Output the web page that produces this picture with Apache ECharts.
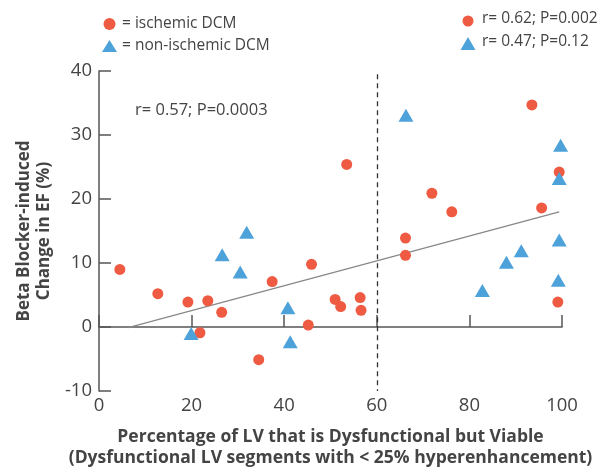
<!DOCTYPE html>
<html>
<head>
<meta charset="utf-8">
<script src="https://cdn.jsdelivr.net/npm/echarts@6/dist/echarts.min.js"></script>
<style>
  html, body { margin: 0; padding: 0; background: #fff; }
  #main { width: 610px; height: 467px; }
</style>
</head>
<body>
<div id="main"></div>
<script>
// ischemic DCM (red circles): [viable %, change in EF]
var ischemic = [
  [4.5, 9.0], [12.7, 5.2], [19.2, 3.9], [21.8, -0.9], [23.5, 4.1], [26.5, 2.3],
  [34.5, -5.1], [37.4, 7.1], [45.2, 0.3], [45.9, 9.8], [51.0, 4.3], [52.2, 3.2],
  [53.5, 25.4], [56.4, 4.6], [56.6, 2.6], [66.2, 11.2], [66.2, 13.9], [71.9, 20.9],
  [76.2, 18.0], [93.5, 34.7], [95.6, 18.6], [99.1, 3.9], [99.4, 24.2]
];
// non-ischemic DCM (blue triangles)
var nonIschemic = [
  [19.9, -1.0], [26.6, 11.3], [30.5, 8.6], [31.9, 14.8], [40.8, 3.0], [41.3, -2.3],
  [66.3, 33.1], [82.8, 5.7], [88.0, 10.1], [91.2, 11.9], [99.2, 7.3], [99.4, 13.6],
  [99.4, 23.2], [99.7, 28.4]
];
// overall regression line end points
var fitLine = [[6.3, -0.1], [99.4, 18.0]];
var cutoffX = 60;
var xTicks = [0, 20, 40, 60, 80, 100];
var yTicks = [-10, 0, 10, 20, 30, 40];

var red = '#ef5a43';
var blue = '#4ea2da';
var font = 'Open Sans';

var chart = echarts.init(document.getElementById('main'));

chart.setOption({
  animation: false,
  textStyle: { fontFamily: font },
  grid: { left: 99, right: 48, top: 71, bottom: 76, outerBoundsMode: 'none', containLabel: false },
  legend: {
    orient: 'vertical',
    left: 97,
    top: 11,
    itemGap: 6,
    itemWidth: 15,
    itemHeight: 12,
    textStyle: { fontFamily: font, fontSize: 15.5, color: '#444' },
    data: [
      { name: '= ischemic DCM', icon: 'circle' },
      { name: '= non-ischemic DCM', icon: 'triangle' }
    ]
  },
  xAxis: {
    type: 'value',
    min: xTicks[0],
    max: xTicks[xTicks.length - 1],
    interval: 20,
    splitLine: { show: false },
    axisLine: { lineStyle: { color: '#555', width: 1.5 } },
    axisTick: { inside: true, length: 12, lineStyle: { color: '#555', width: 1.5 } },
    axisLabel: { fontSize: 18.5, color: '#444', margin: 5, fontFamily: font },
    name: 'Percentage of LV that is Dysfunctional but Viable\n(Dysfunctional LV segments with < 25% hyperenhancement)',
    nameLocation: 'middle',
    nameGap: 36,
    nameTextStyle: { fontSize: 17.5, fontWeight: 'bold', color: '#444', lineHeight: 21, fontFamily: font }
  },
  yAxis: {
    type: 'value',
    min: yTicks[0],
    max: yTicks[yTicks.length - 1],
    interval: 10,
    splitLine: { show: false },
    axisLine: { show: true, lineStyle: { color: '#555', width: 1.5 } },
    axisTick: { show: true, inside: true, length: 12, lineStyle: { color: '#555', width: 1.5 } },
    axisLabel: { fontSize: 18.5, color: '#444', margin: 7, fontFamily: font },
    name: 'Beta Blocker-induced\nChange in EF (%)',
    nameLocation: 'middle',
    nameGap: 44,
    nameTextStyle: { fontSize: 17, fontWeight: 'bold', color: '#444', lineHeight: 20, fontFamily: font }
  },
  graphic: [
    { type: 'text', left: 135, top: 102, style: { text: 'r= 0.57; P=0.0003', fontSize: 16.5, fill: '#444', fontFamily: font } },
    { type: 'circle', shape: { cx: 468, cy: 21, r: 5.5 }, style: { fill: red } },
    { type: 'text', left: 482, top: 11, style: { text: 'r= 0.62; P=0.002', fontSize: 15.5, fill: '#444', fontFamily: font } },
    { type: 'polygon', shape: { points: [[468, 37], [475.5, 50], [460.5, 50]] }, style: { fill: blue } },
    { type: 'text', left: 482, top: 34, style: { text: 'r= 0.47; P=0.12', fontSize: 15.5, fill: '#444', fontFamily: font } }
  ],
  series: [
    {
      name: 'fit',
      type: 'line',
      data: fitLine,
      symbol: 'none',
      lineStyle: { color: '#888', width: 1.3 },
      z: 1,
      markLine: {
        silent: true,
        symbol: 'none',
        label: { show: false },
        lineStyle: { color: '#333', type: [5, 4], width: 1.3 },
        data: [[{ coord: [cutoffX, 39.5] }, { coord: [cutoffX, -10] }]]
      }
    },
    {
      name: '= ischemic DCM',
      type: 'scatter',
      data: ischemic,
      symbol: 'circle',
      symbolSize: 11,
      itemStyle: { color: red, opacity: 1 },
      z: 3
    },
    {
      name: '= non-ischemic DCM',
      type: 'scatter',
      data: nonIschemic,
      symbol: 'triangle',
      symbolSize: [15, 13],
      itemStyle: { color: blue, opacity: 1 },
      z: 3
    }
  ]
});
</script>
</body>
</html>
